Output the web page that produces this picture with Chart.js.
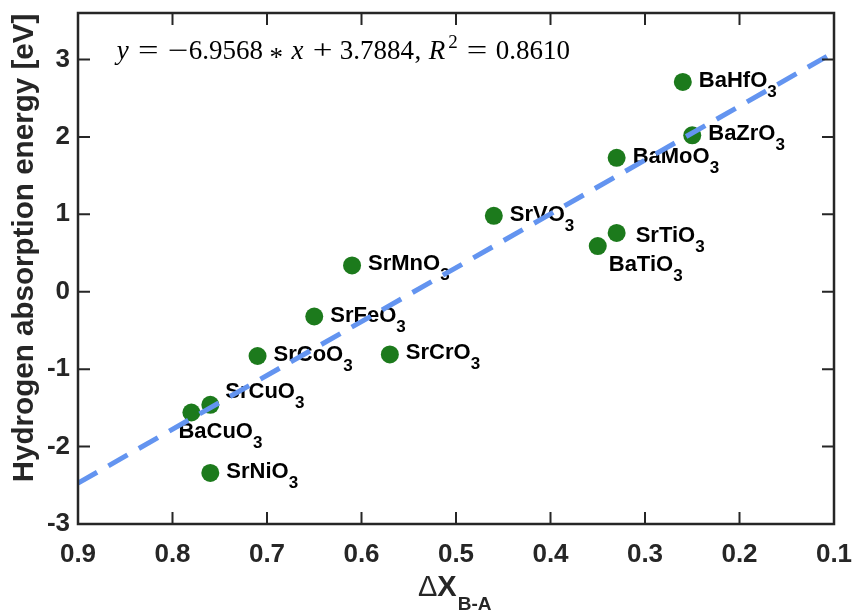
<!DOCTYPE html>
<html>
<head>
<meta charset="utf-8">
<script src="https://cdn.jsdelivr.net/npm/chart.js@4/dist/chart.umd.min.js"></script>
<style>
  body { margin: 0; background: #fff; }
  canvas { display: block; }
</style>
</head>
<body>
<canvas id="fitChart" width="854" height="612"></canvas>
<script>
// Compounds and their values
const compounds = ['BaHfO3', 'BaZrO3', 'BaMoO3', 'SrVO3', 'SrTiO3', 'BaTiO3', 'SrMnO3',
                   'SrFeO3', 'SrCoO3', 'SrCrO3', 'SrCuO3', 'BaCuO3', 'SrNiO3'];
const deltaX = [0.26, 0.25, 0.33, 0.46, 0.33, 0.35, 0.61, 0.65, 0.71, 0.57, 0.76, 0.78, 0.76];
const absorption = [2.71, 2.02, 1.73, 0.98, 0.76, 0.59, 0.34, -0.32, -0.83, -0.81, -1.46, -1.56, -2.34];

// Linear fit
const slope = -6.9568;
const intercept = 3.7884;
const rSquared = 0.8610;

const xTicks = [0.9, 0.8, 0.7, 0.6, 0.5, 0.4, 0.3, 0.2, 0.1];
const yTicks = [-3, -2, -1, 0, 1, 2, 3];

// label placement: [dx from dot, baseline dy from dot]
const defaultOffset = [16, 5];
const labelOffsets = {
    SrTiO3: [19, 9],
    BaTiO3: [11, 25],
    SrCuO3: [15, -7],
    BaCuO3: [-13, 25]
};

const axisColor = '#262626';
const dotColor = '#1c7a1c';
const lineColor = '#6394f0';
const sans = '"Liberation Sans", Arial, sans-serif';
const serif = '"Liberation Serif", "Times New Roman", serif';

const points = deltaX.map((x, i) => ({ x: x, y: absorption[i] }));
const xEnds = [xTicks[0], xTicks[xTicks.length - 1]];
const fitPoints = xEnds.map(x => ({ x: x, y: slope * x + intercept }));

function drawFormula(ctx, name, x, y) {
    const m = name.match(/^(.*?)(\d+)$/);
    ctx.font = 'bold 22px ' + sans;
    ctx.textAlign = 'left';
    ctx.textBaseline = 'alphabetic';
    ctx.fillStyle = '#000';
    ctx.fillText(m[1], x, y);
    const w = ctx.measureText(m[1]).width;
    ctx.font = 'bold 17px ' + sans;
    ctx.fillText(m[2], x + w, y + 10);
}

// draws a run of [text, font, gapBefore, dy] pieces left to right
function drawRun(ctx, pieces, x, y) {
    pieces.forEach(p => {
        x += p[2] || 0;
        ctx.font = p[1];
        ctx.fillText(p[0], x, y + (p[3] || 0));
        x += ctx.measureText(p[0]).width;
    });
}

// TeX-like equation: each token gets a box of `w` em (or its own width),
// glyph centred in the box, optionally stretched sideways
function drawEquation(ctx, tokens, x, y, em) {
    tokens.forEach(t => {
        if (t.gap) { x += t.gap * em; return; }
        ctx.font = t.font;
        const natural = ctx.measureText(t.text).width;
        const sx = t.stretch || 1;
        const box = t.w ? t.w * em : natural;
        ctx.save();
        ctx.translate(x + (box - natural * sx) / 2, y + (t.dy || 0));
        ctx.scale(sx, 1);
        ctx.fillText(t.text, 0, 0);
        ctx.restore();
        x += box;
    });
}

const decorations = {
    id: 'decorations',
    afterDatasetDraw(chart, args) {
        // names go under the fit line but over the dots
        if (args.index !== 1) return;
        const ctx = chart.ctx;
        const meta = chart.getDatasetMeta(1);
        ctx.save();
        meta.data.forEach((pt, i) => {
            const off = labelOffsets[compounds[i]] || defaultOffset;
            drawFormula(ctx, compounds[i], pt.x + off[0], pt.y + off[1]);
        });
        ctx.restore();
    },
    afterDraw(chart) {
        const ctx = chart.ctx;
        const a = chart.chartArea;
        const xs = chart.scales.x;
        const ys = chart.scales.y;
        ctx.save();

        // box and inward ticks
        ctx.strokeStyle = axisColor;
        ctx.lineWidth = 2.5;
        ctx.strokeRect(a.left, a.top, a.right - a.left, a.bottom - a.top);
        ctx.lineWidth = 2;
        const tl = 12;
        ctx.beginPath();
        xTicks.forEach(v => {
            const px = xs.getPixelForValue(v);
            ctx.moveTo(px, a.bottom); ctx.lineTo(px, a.bottom - tl);
            ctx.moveTo(px, a.top); ctx.lineTo(px, a.top + tl);
        });
        yTicks.forEach(v => {
            const py = ys.getPixelForValue(v);
            ctx.moveTo(a.left, py); ctx.lineTo(a.left + tl, py);
            ctx.moveTo(a.right, py); ctx.lineTo(a.right - tl, py);
        });
        ctx.stroke();

        // axis titles
        ctx.fillStyle = axisColor;
        ctx.textBaseline = 'alphabetic';
        const yTitle = 'Hydrogen absorption energy [eV]';
        ctx.font = 'bold 29px ' + sans;
        const yTitleSize = 29 * 468 / ctx.measureText(yTitle).width;
        ctx.save();
        ctx.translate(33, 248);
        ctx.rotate(-Math.PI / 2);
        ctx.textAlign = 'center';
        ctx.font = 'bold ' + yTitleSize.toFixed(1) + 'px ' + sans;
        ctx.fillText(yTitle, 0, 0);
        ctx.restore();

        ctx.textAlign = 'left';
        drawRun(ctx, [
            ['\u0394', '29px ' + sans],
            ['X', 'bold 29px ' + sans],
            ['B-A', 'bold 19px ' + sans, 1, 14]
        ], 418, 596);

        // fit equation
        ctx.fillStyle = '#000';
        const it = 'italic 27px ' + serif;
        const rm = '27px ' + serif;
        drawEquation(ctx, [
            { text: 'y', font: it, w: 0.49 },
            { gap: 0.278 },
            { text: '=', font: rm, w: 0.778, stretch: 1.35 },
            { gap: 0.278 },
            { text: slope < 0 ? '\u2212' : '', font: rm, w: 0.778, stretch: 1.35 },
            { text: Math.abs(slope).toFixed(4), font: rm },
            { gap: 0.222 },
            { text: '*', font: rm, w: 0.5, dy: 7 },
            { gap: 0.222 },
            { text: 'x', font: it, w: 0.572 },
            { gap: 0.222 },
            { text: '+', font: rm, w: 0.778, stretch: 1.3 },
            { gap: 0.222 },
            { text: intercept.toFixed(4), font: rm },
            { text: ',', font: rm, w: 0.278 },
            { gap: 0.167 },
            { text: 'R', font: it, w: 0.759 },
            { text: '2', font: '19px ' + serif, w: 0.38, dy: -11 },
            { gap: 0.278 },
            { text: '=', font: rm, w: 0.778, stretch: 1.35 },
            { gap: 0.278 },
            { text: rSquared.toFixed(4), font: rm }
        ], 116, 59, 28);

        ctx.restore();
    }
};

const ctx = document.getElementById('fitChart').getContext('2d');
const fitChart = new Chart(ctx, {
    type: 'scatter',
    data: {
        datasets: [{
            label: 'Linear fit',
            data: fitPoints,
            showLine: true,
            borderColor: lineColor,
            borderWidth: 5,
            borderDash: [22, 13],
            borderCapStyle: 'butt',
            pointRadius: 0,
            pointHoverRadius: 0,
            fill: false
        }, {
            label: 'Perovskites',
            data: points,
            backgroundColor: dotColor,
            borderColor: dotColor,
            borderWidth: 0,
            pointRadius: 9,
            pointHoverRadius: 9
        }]
    },
    options: {
        responsive: false,
        animation: false,
        events: [],
        layout: { padding: { top: 13, right: 20, left: 0, bottom: 0 } },
        plugins: {
            legend: { display: false },
            tooltip: { enabled: false }
        },
        scales: {
            x: {
                type: 'linear',
                reverse: true,
                min: 0.1,
                max: 0.9,
                afterBuildTicks: s => { s.ticks = xTicks.map(v => ({ value: v })); },
                afterFit: s => { s.height = 88; s.paddingLeft = 0; s.paddingRight = 0; },
                grid: { display: false, drawTicks: false },
                border: { display: false },
                ticks: {
                    color: axisColor,
                    padding: 15,
                    maxRotation: 0,
                    autoSkip: false,
                    font: { family: sans, size: 26, weight: 'bold' },
                    callback: v => v.toFixed(1)
                }
            },
            y: {
                type: 'linear',
                min: -3,
                max: 3.6,
                afterBuildTicks: s => { s.ticks = yTicks.map(v => ({ value: v })); },
                afterFit: s => { s.width = 78; s.paddingTop = 0; s.paddingBottom = 0; },
                grid: { display: false, drawTicks: false },
                border: { display: false },
                ticks: {
                    color: axisColor,
                    padding: 8,
                    font: { family: sans, size: 26, weight: 'bold' },
                    callback: v => String(v)
                }
            }
        }
    },
    plugins: [decorations]
});
</script>
</body>
</html>
